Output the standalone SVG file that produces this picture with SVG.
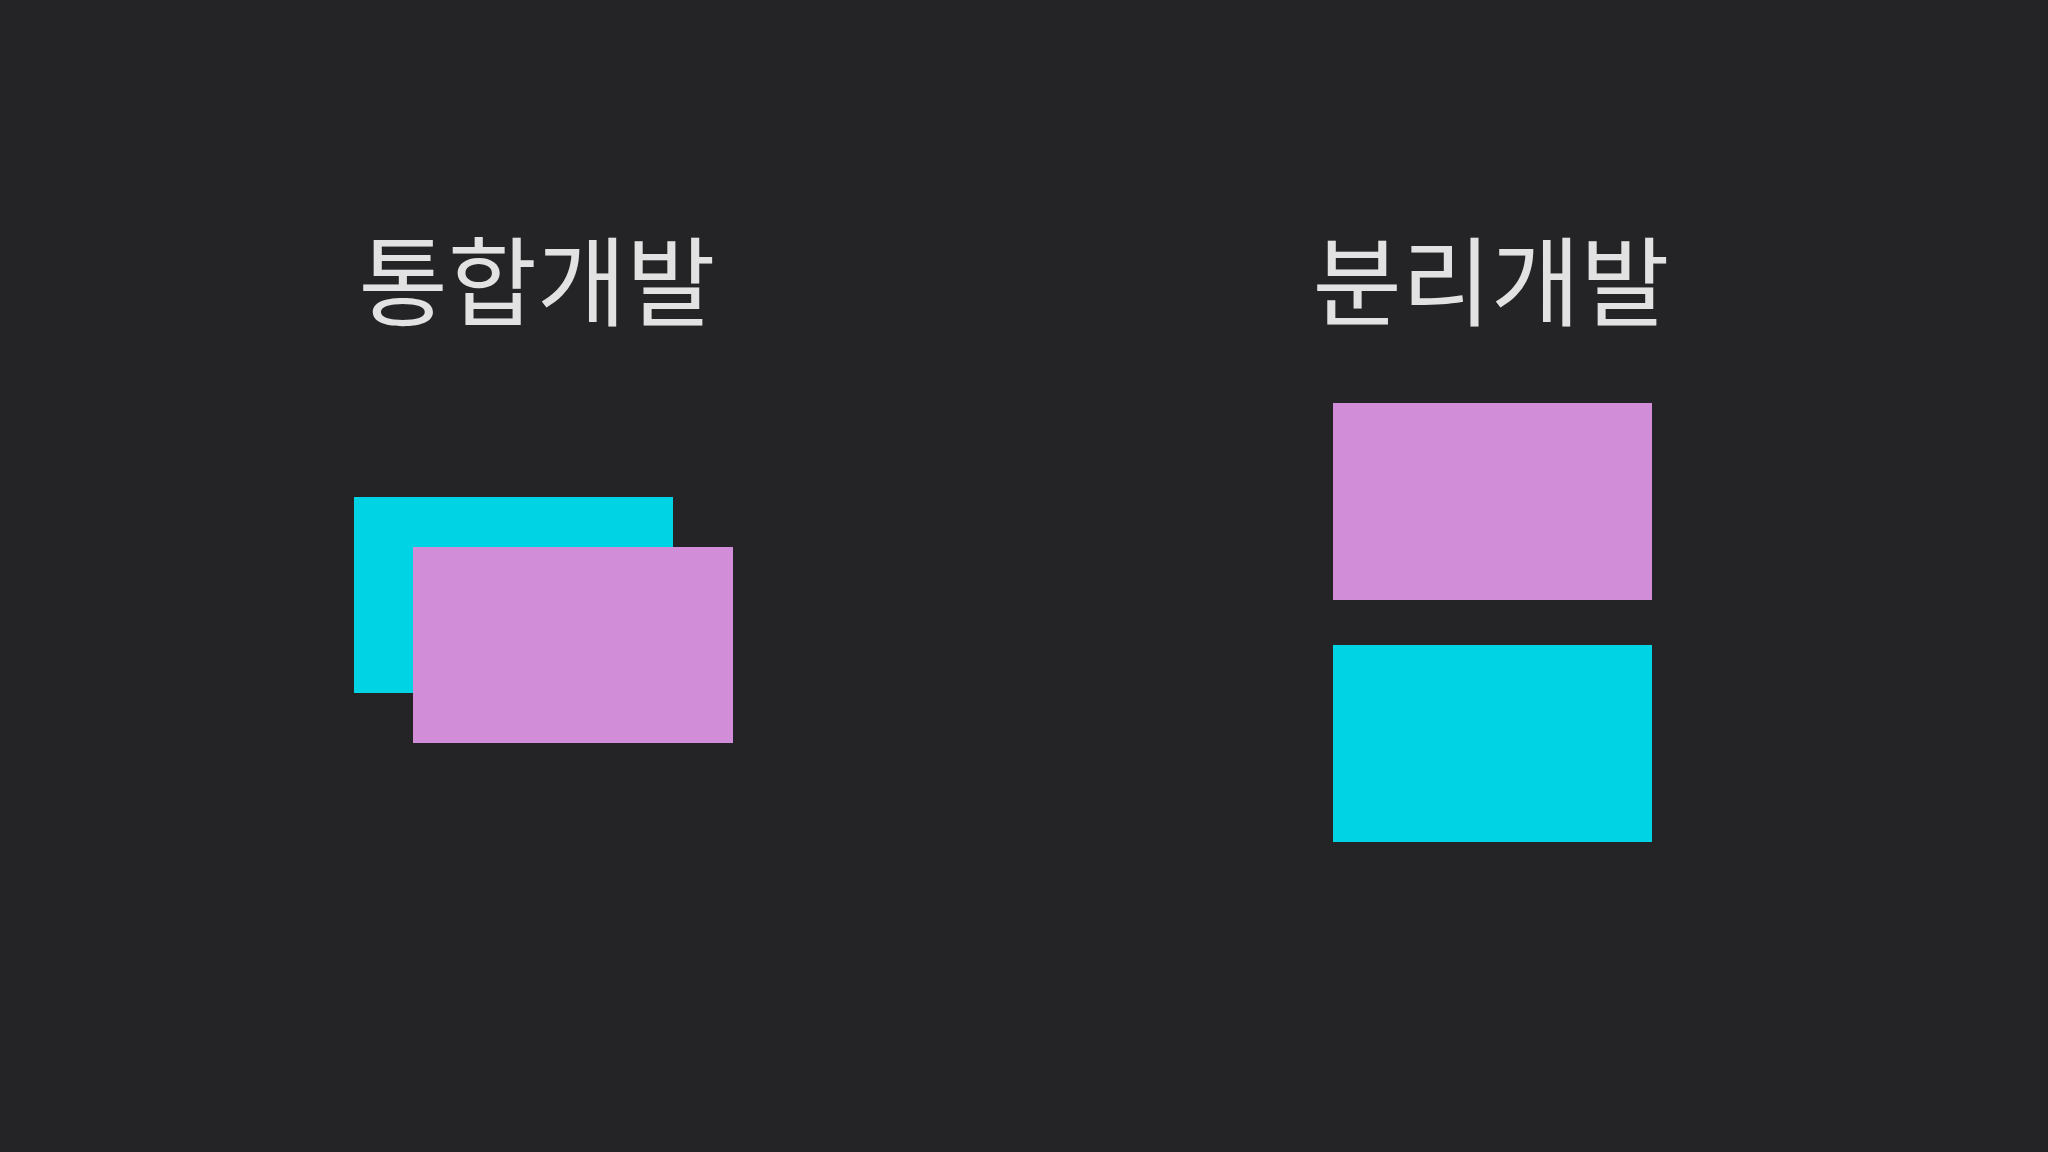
<svg xmlns="http://www.w3.org/2000/svg" width="2048" height="1152" viewBox="0 0 2048 1152">
<style>
.t{font-family:"Noto Sans CJK KR","Noto Sans",sans-serif;font-size:97px;font-weight:400;fill:#e2e2e2;text-anchor:middle}
.c{fill:#00d3e3}
.p{fill:#d18dd8}
</style>
<rect width="2048" height="1152" fill="#242426"/>
<g id="left-title"><text class="t" x="537" y="318">통합개발</text></g>
<g id="right-title"><text class="t" x="1491" y="318">분리개발</text></g>
<g id="left-cyan"><rect class="c" x="354" y="497" width="319" height="196"/></g>
<g id="left-pink"><rect class="p" x="413" y="547" width="320" height="196"/></g>
<g id="right-pink"><rect class="p" x="1333" y="403" width="319" height="197"/></g>
<g id="right-cyan"><rect class="c" x="1333" y="645" width="319" height="197"/></g>
<g id="connectors"/>
</svg>
